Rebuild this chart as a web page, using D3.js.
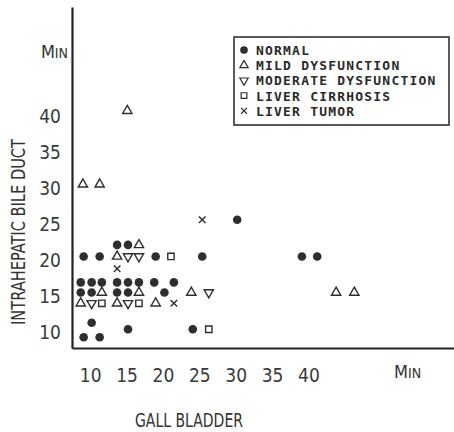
<!DOCTYPE html>
<html>
<head>
<meta charset="utf-8">
<script src="https://cdn.jsdelivr.net/npm/d3@7"></script>
<style>
  html, body { margin: 0; padding: 0; background: #fff; }
  svg { display: block; }
  .tick text { font-family: "Liberation Sans Narrow", "DejaVu Sans Condensed", "DejaVu Sans", sans-serif; font-stretch: condensed; font-size: 19px; fill: #3a3a3a; }
  .lbl { font-family: "Liberation Sans Narrow", "DejaVu Sans Condensed", "DejaVu Sans", sans-serif; font-stretch: condensed; fill: #333; }
  .leg { font-family: "DejaVu Sans Mono", monospace; font-weight: bold; font-size: 13px; letter-spacing: 1.2px; fill: #2a2a2a; }
</style>
</head>
<body>
<svg id="chart" width="454" height="432"></svg>
<script>
// Gall bladder vs intrahepatic bile duct times (min), one list of [gallBladder, bileDuct] per group
const normal = [
  [13.7, 22.2], [15.2, 22.2],
  [9.1, 20.6], [11.3, 20.6], [19.0, 20.6], [25.4, 20.6],
  [30.2, 25.7], [39.1, 20.6], [41.2, 20.6],
  [8.7, 17.0], [10.2, 17.0], [11.6, 17.0], [13.7, 17.0], [15.2, 17.0], [16.7, 17.0], [18.8, 17.0], [21.5, 17.0],
  [8.7, 15.6], [10.2, 15.6], [13.7, 15.6], [15.2, 15.6], [20.2, 15.6],
  [10.2, 11.4],
  [15.2, 10.5], [24.1, 10.5],
  [9.1, 9.4], [11.3, 9.4]
];
const mild = [
  [9.0, 30.6], [11.3, 30.6],
  [15.1, 40.8],
  [16.7, 22.2],
  [13.7, 20.6],
  [11.6, 15.6], [16.7, 15.6], [23.9, 15.6], [43.8, 15.6], [46.3, 15.6],
  [8.7, 14.1], [13.7, 14.1], [19.0, 14.1]
];
const moderate = [
  [15.2, 20.6], [16.7, 20.6],
  [26.3, 15.6],
  [10.2, 14.1], [15.2, 14.1]
];
const cirrhosis = [
  [21.1, 20.6],
  [11.6, 14.1], [16.7, 14.1],
  [26.3, 10.5]
];
const tumor = [
  [25.4, 25.7], [13.7, 18.9], [21.5, 14.1]
];

const xTicks = [10, 15, 20, 25, 30, 35, 40];
const yTicks = [10, 15, 20, 25, 30, 35, 40];
const groupNames = ["NORMAL", "MILD DYSFUNCTION", "MODERATE DYSFUNCTION", "LIVER CIRRHOSIS", "LIVER TUMOR"];
const groupData = [normal, mild, moderate, cirrhosis, tumor];

const svg = d3.select("#chart");
const ink = "#2e2e2e";

const x = d3.scaleLinear().domain([7.5, 60]).range([72, 454]);
const y = d3.scaleLinear().domain([7.9, 55.2]).range([348, 7]);

// symbol per group
const symbolFor = [
  { type: d3.symbolCircle, size: 58, fill: ink, stroke: "none", rot: 0 },
  { type: d3.symbolTriangle2, size: 62, fill: "#fff", stroke: ink, rot: 0 },
  { type: d3.symbolTriangle2, size: 62, fill: "#fff", stroke: ink, rot: 180 },
  { type: d3.symbolSquare2, size: 52, fill: "#fff", stroke: ink, rot: 0 },
  { type: d3.symbolTimes, size: 30, fill: "none", stroke: ink, rot: 0 }
];

// axes
const xAxis = svg.append("g")
  .attr("transform", `translate(0,${y.range()[0]})`)
  .call(d3.axisBottom(x).tickValues(xTicks).tickSize(0).tickPadding(21));
const yAxis = svg.append("g")
  .attr("transform", `translate(${x.range()[0]},0)`)
  .call(d3.axisLeft(y).tickValues(yTicks).tickSize(0).tickPadding(11));
[xAxis, yAxis].forEach(g => g.select(".domain").attr("stroke", "#222").attr("stroke-width", 2.2));

// unit labels with small capitals
function minLabel(px, py, anchor) {
  const t = svg.append("text").attr("class", "lbl")
    .attr("x", px).attr("y", py).attr("text-anchor", anchor);
  t.append("tspan").attr("font-size", 18).text("M");
  t.append("tspan").attr("font-size", 14).text("IN");
}
minLabel(68, 58, "end");
minLabel(394, 378, "start");

// axis titles
svg.append("text").attr("class", "lbl")
  .attr("x", 189).attr("y", 427)
  .attr("text-anchor", "middle")
  .attr("font-size", 19)
  .attr("textLength", 108).attr("lengthAdjust", "spacingAndGlyphs")
  .text("GALL BLADDER");
svg.append("text").attr("class", "lbl")
  .attr("transform", "translate(25,232) rotate(-90)")
  .attr("text-anchor", "middle")
  .attr("font-size", 20)
  .attr("textLength", 186).attr("lengthAdjust", "spacingAndGlyphs")
  .text("INTRAHEPATIC BILE DUCT");

// points
groupData.forEach((data, i) => {
  const s = symbolFor[i];
  svg.append("g").selectAll("path")
    .data(data)
    .join("path")
    .attr("d", d3.symbol().type(s.type).size(s.size))
    .attr("transform", d => `translate(${x(d[0])},${y(d[1])}) rotate(${s.rot})`)
    .attr("fill", s.fill)
    .attr("stroke", s.stroke)
    .attr("stroke-width", 1.4);
});

// legend
const leg = svg.append("g").attr("transform", "translate(234,37)");
leg.append("rect").attr("width", 215).attr("height", 88)
  .attr("fill", "#fff").attr("stroke", "#333").attr("stroke-width", 1.6);
groupNames.forEach((name, i) => {
  const s = symbolFor[i];
  const row = leg.append("g").attr("transform", `translate(0,${13 + i * 15.2})`);
  row.append("path")
    .attr("d", d3.symbol().type(s.type).size(s.size * 0.8))
    .attr("transform", `translate(10,0) rotate(${s.rot})`)
    .attr("fill", s.fill).attr("stroke", s.stroke).attr("stroke-width", 1.2);
  row.append("text").attr("class", "leg")
    .attr("x", 22).attr("y", 5)
    .text(name);
});
</script>
</body>
</html>
